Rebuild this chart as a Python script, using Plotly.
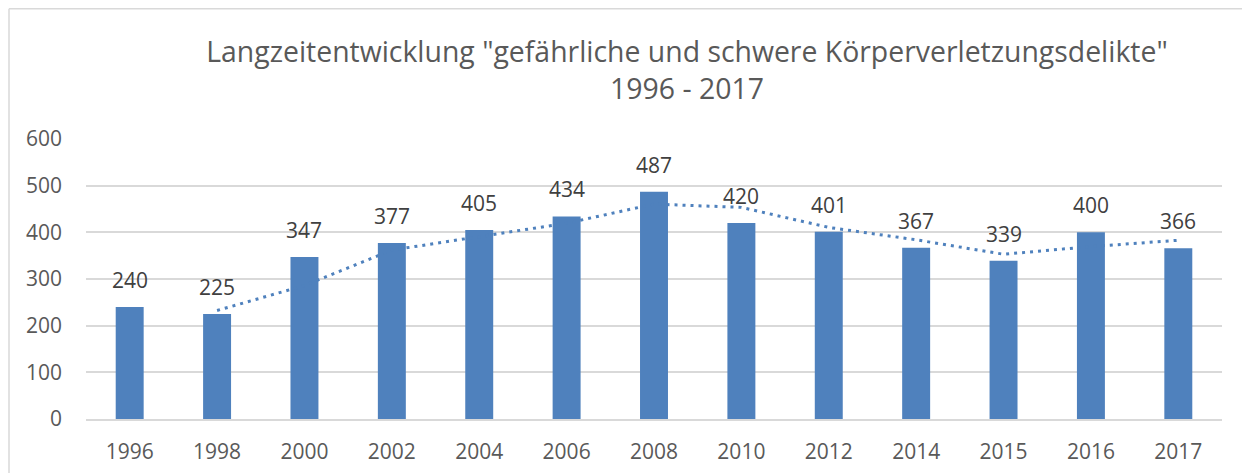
import plotly.graph_objects as go

years = ["1996", "1998", "2000", "2002", "2004", "2006", "2008", "2010", "2012", "2014", "2015", "2016", "2017"]
cases = [240, 225, 347, 377, 405, 434, 487, 420, 401, 367, 339, 400, 366]
# Excel-style moving-average trendline (period 2)
trend = [None, 232.5, 286, 362, 391, 419.5, 460.5, 453.5, 410.5, 384, 353, 369.5, 383]
y_ticks = [0, 100, 200, 300, 400, 500, 600]

title_lines = ['Langzeitentwicklung "gefährliche und schwere Körperverletzungsdelikte"', "1996 - 2017"]

BAR = "#4F81BD"
TXT = "#595959"
GRID = "#D9D9D9"
FONT = "Open Sans"

fig = go.Figure()
fig.add_trace(go.Bar(
    x=years, y=cases, marker=dict(color=BAR, line=dict(width=0)),
    showlegend=False,
))
fig.add_trace(go.Scatter(
    x=years, y=trend, mode="lines",
    line=dict(color=BAR, width=3, dash="3px,5px"),
    showlegend=False, hoverinfo="skip",
))

# data labels: x given as category index so numeric-looking names are not read as positions
annotations = [
    dict(x=i, y=v, text=str(v), xref="x", yref="y", showarrow=False,
         yanchor="bottom", yshift=11, font=dict(size=21, color="#404040", family=FONT))
    for i, v in enumerate(cases)
]

W, H = 1250, 473
L, R, T, B = 78, 36, 131, 62
pw, ph = W - L - R, H - T - B

def px_x(px):
    return (px - L) / pw

def px_y(py):
    return (H - B - py) / ph

fig.update_layout(
    width=W, height=H,
    margin=dict(l=L, r=R, t=T, b=B, pad=0),
    paper_bgcolor="white", plot_bgcolor="white",
    bargap=0.68,
    font=dict(family=FONT, color=TXT),
    title=dict(
        text="<br>".join(title_lines),
        x=679 / W, xanchor="center",
        y=1 - 54 / H, yanchor="top",
        font=dict(size=28.4, color=TXT, family=FONT),
    ),
    xaxis=dict(
        type="category", showgrid=False, showline=True, linecolor=GRID, linewidth=1.5,
        ticks="", tickfont=dict(size=21, color=TXT), ticklabelstandoff=13,
    ),
    yaxis=dict(
        range=[0, 600], tickvals=y_ticks, showgrid=True, gridcolor=GRID, gridwidth=1.5,
        zeroline=False, showline=False, ticks="",
        tickfont=dict(size=21, color=TXT), ticklabelstandoff=23,
    ),
    annotations=annotations,
    shapes=[
        dict(type="line", xref="paper", yref="paper", x0=px_x(1), x1=px_x(1), y0=px_y(0.75), y1=px_y(480),
             line=dict(color=GRID, width=1.5)),
        dict(type="line", xref="paper", yref="paper", x0=px_x(1), x1=px_x(1260), y0=px_y(0.75), y1=px_y(0.75),
             line=dict(color=GRID, width=1.5)),
    ],
)

fig.write_html("out.html")
